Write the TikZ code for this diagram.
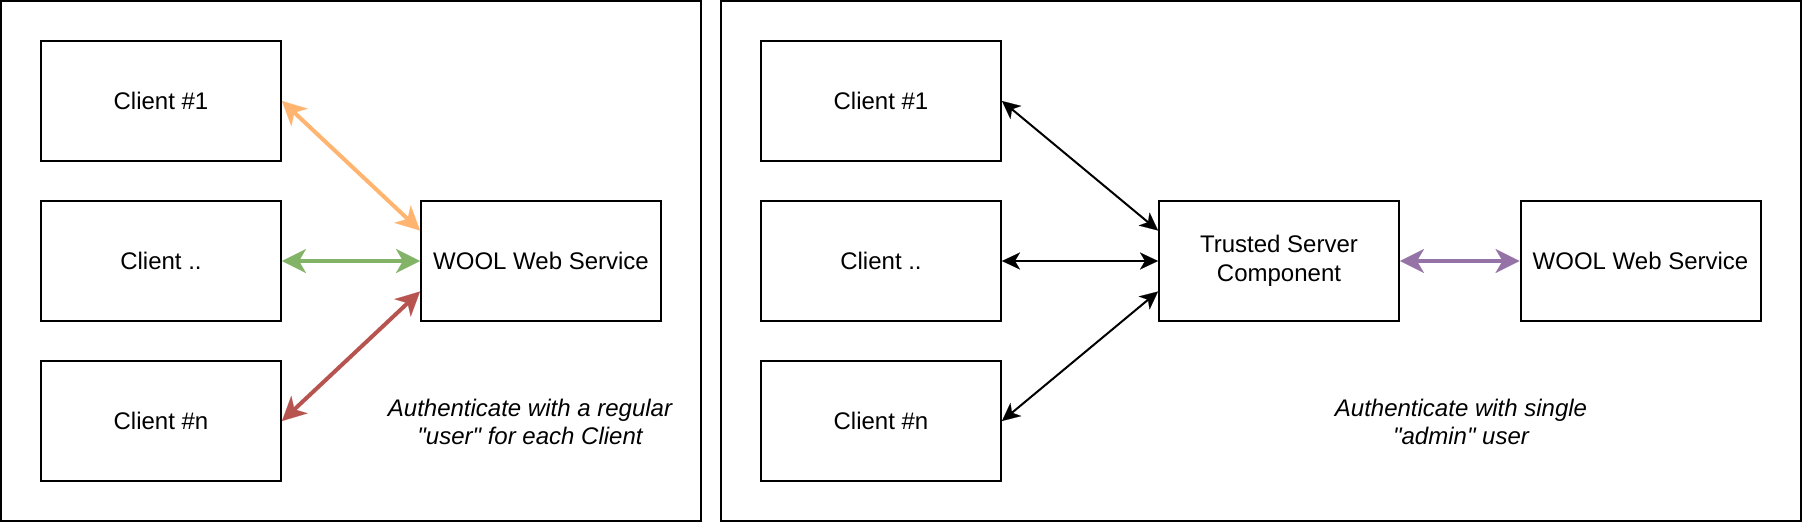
\documentclass[tikz,border=0pt]{standalone}
\usepackage{fontspec}
\setmainfont{Liberation Sans}[Ligatures=TeXOff]
\usetikzlibrary{arrows.meta,calc}
\definecolor{aorange}{HTML}{FFB570}
\definecolor{agreen}{HTML}{82B366}
\definecolor{ared}{HTML}{B85450}
\definecolor{apurple}{HTML}{9673A6}
\tikzset{
  panel/.style={draw=black,line width=2pt},
  boxnode/.style={draw=black,line width=2pt,minimum width=240pt,minimum height=120pt,inner sep=0pt,
    align=center,font=\fontsize{24pt}{28.8pt}\selectfont},
  note/.style={inner sep=0pt,align=center,font=\fontsize{24pt}{28.8pt}\selectfont\itshape},
  thickarr/.style={line width=4pt,>={Stealth[length=24pt,width=24pt,inset=7pt,line width=0.1pt]},<->},
  thinarr/.style={line width=2pt,black,>={Stealth[length=18pt,width=17pt,inset=5pt,line width=0.1pt]},<->}
}
\begin{document}
\begin{tikzpicture}[x=1pt,y=-1pt]
\useasboundingbox (0,0) rectangle (1802,522);
\fill[white] (0,0) rectangle (1802,522);
% panels
\draw[panel] (1,1) rectangle (701,521);
\draw[panel] (721,1) rectangle (1801,521);
% left panel
\node[boxnode] (lc1) at (161,101) {Client \#1};
\node[boxnode] (lc2) at (161,261) {Client ..};
\node[boxnode] (lcn) at (161,421) {Client \#n};
\node[boxnode] (lw) at (541,261) {WOOL Web Service};
\coordinate (lwa) at ($(lw.north west)!0.25!(lw.south west)$);
\coordinate (lwb) at ($(lw.north west)!0.75!(lw.south west)$);
\draw[thickarr,aorange] (lc1.east) -- (lwa);
\draw[thickarr,agreen] (lc2.east) -- (lw.west);
\draw[thickarr,ared] (lcn.east) -- (lwb);
\node[note] (ln) at (530,422) {Authenticate with a regular\\"user" for each Client};
% right panel
\node[boxnode] (rc1) at (881,101) {Client \#1};
\node[boxnode] (rc2) at (881,261) {Client ..};
\node[boxnode] (rcn) at (881,421) {Client \#n};
\node[boxnode] (ts) at (1279,261) {Trusted Server\\Component};
\node[boxnode] (rw) at (1640.5,261) {WOOL Web Service};
\coordinate (tsa) at ($(ts.north west)!0.25!(ts.south west)$);
\coordinate (tsb) at ($(ts.north west)!0.75!(ts.south west)$);
\draw[thinarr] (rc1.east) -- (tsa);
\draw[thinarr] (rc2.east) -- (ts.west);
\draw[thinarr] (rcn.east) -- (tsb);
\draw[thickarr,apurple] (ts.east) -- (rw.west);
\node[note] (rn) at (1461,422) {Authenticate with single\\"admin" user};
\end{tikzpicture}
\end{document}
